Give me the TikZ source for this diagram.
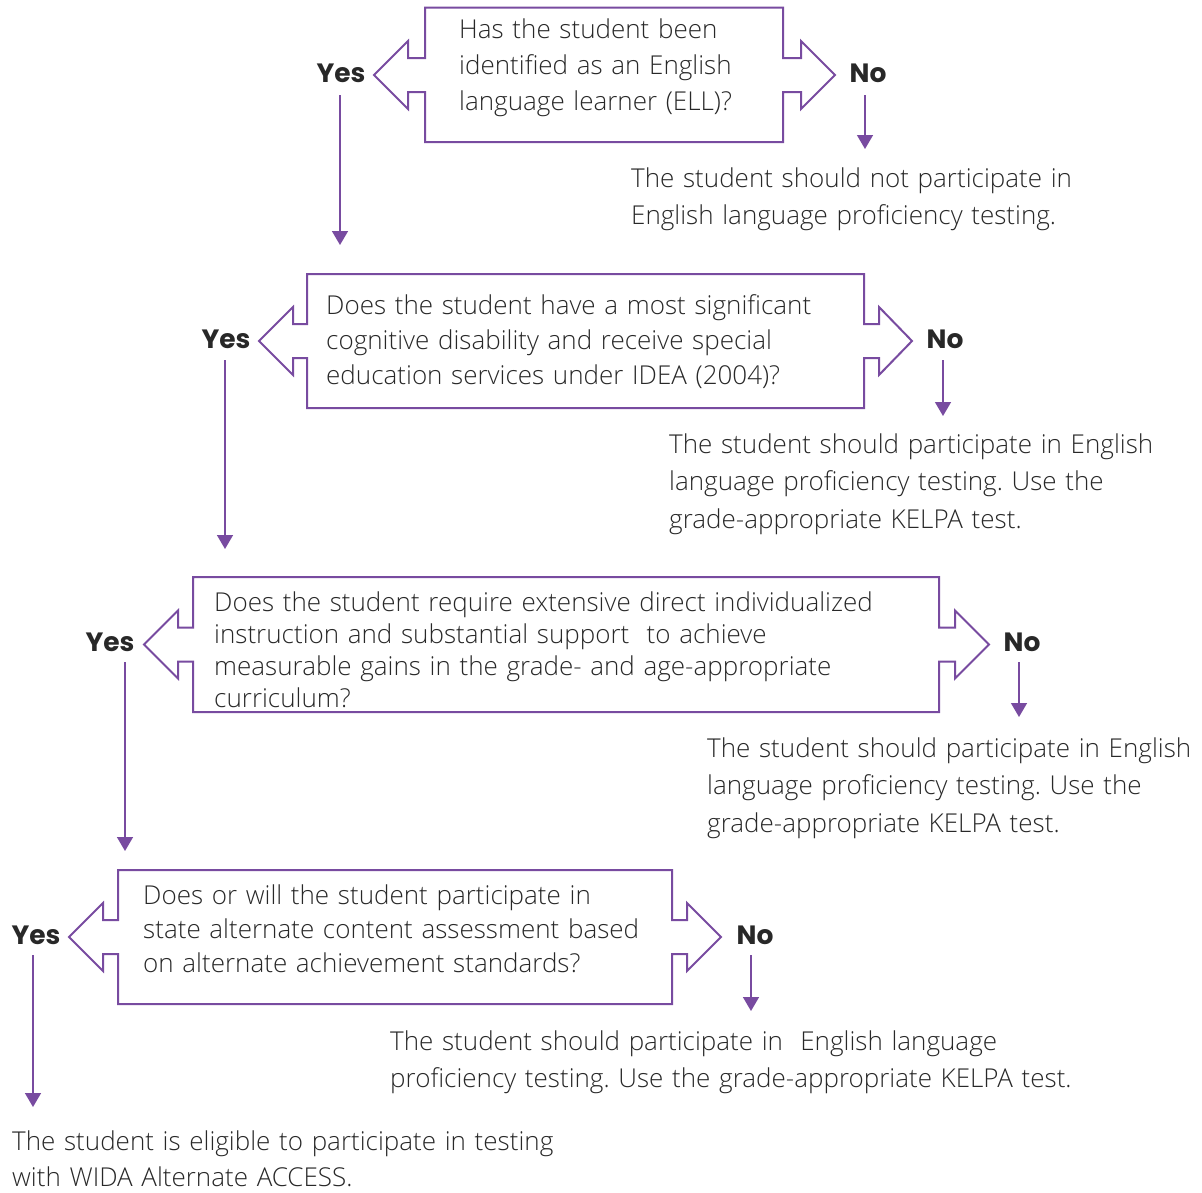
\documentclass[tikz,border=0pt]{standalone}
\usepackage{fontspec}
\IfFontExistsTF{Open Sans Light}{%
  \setmainfont{Open Sans Light}[BoldFont={Open Sans Bold}]}{%
  \setmainfont{Open Sans}}
\newfontfamily\lblfont{Poppins}
\usetikzlibrary{arrows.meta}
\definecolor{purp}{RGB}{120,75,160}
\definecolor{txt}{RGB}{40,40,40}
\frenchspacing
% #1 left, #2 right, #3 top, #4 bottom, #5 centre y, #6 left tip, #7 left back, #8 right back, #9 right tip
\newcommand\qshape[9]{%
  \draw[qbox] (#1,#3) -- (#2,#3) -- (#2,{#5-17}) -- (#8,{#5-17}) -- (#8,{#5-34})
    -- (#9,#5) -- (#8,{#5+34}) -- (#8,{#5+17}) -- (#2,{#5+17}) -- (#2,#4)
    -- (#1,#4) -- (#1,{#5+17}) -- (#7,{#5+17}) -- (#7,{#5+34}) -- (#6,#5)
    -- (#7,{#5-34}) -- (#7,{#5-17}) -- (#1,{#5-17}) -- cycle;}
\begin{document}
\begin{tikzpicture}[x=1pt,y=-1pt,
  qbox/.style={draw=purp,line width=2pt,line join=miter},
  arr/.style={draw=purp,line width=1.5pt,-{Triangle[width=16pt,length=14pt]}},
  lbl/.style={font=\lblfont\fontsize{26.5}{30}\selectfont\bfseries,text=txt,inner sep=0pt,anchor=base},
  body/.style={font=\fontsize{26}{#1}\selectfont,text=txt,inner sep=0pt,anchor=base west,
    align=left,text width=1000pt},
]
\useasboundingbox (0,0) rectangle (1202,1192);

% decision shapes
\qshape{425}{783}{7.5}{142}{75}{374}{408}{801}{835}
\qshape{307}{864}{274}{408}{341}{259}{293}{879}{912}
\qshape{193}{939}{577}{712}{644.5}{144}{178}{955}{989}
\qshape{118}{672}{870}{1004}{937}{69}{103}{687}{721}

% questions
\node[body=36] (q1) at (459,38) {Has the student been\\identified as an English\\language learner (ELL)?};
\node[body=35] (q2) at (326,314) {Does the student have a most significant\\cognitive disability and receive special\\education services under IDEA (2004)?};
\node[body=32] (q3) at (214,611) {Does the student require extensive direct individualized\\instruction and substantial support\ \ to achieve\\measurable gains in the grade- and age-appropriate\\curriculum?};
\node[body=34] (q4) at (143,904) {Does or will the student participate in\\state alternate content assessment based\\on alternate achievement standards?};

% labels
\node[lbl] (yes1) at (341,82) {Yes};
\node[lbl] (no1) at (868,82) {No};
\node[lbl] (yes2) at (226,348) {Yes};
\node[lbl] (no2) at (945,348) {No};
\node[lbl] (yes3) at (110,651) {Yes};
\node[lbl] (no3) at (1022,651) {No};
\node[lbl] (yes4) at (36,944) {Yes};
\node[lbl] (no4) at (755,944) {No};

% outcomes
\node[body=37] (o1) at (631,187) {The student should not participate in\\English language proficiency testing.};
\node[body=37.5] (o2) at (669,453) {The student should participate in English\\language proficiency testing. Use the\\grade-appropriate KELPA test.};
\node[body=37.5] (o3) at (707,757) {The student should participate in English\\language proficiency testing. Use the\\grade-appropriate KELPA test.};
\node[body=37] (o4) at (390,1050) {The student should participate in\ \ English language\\proficiency testing. Use the grade-appropriate KELPA test.};
\node[body=36] (o5) at (12,1150) {The student is eligible to participate in testing\\with WIDA Alternate ACCESS.};

% arrow ends
\coordinate (ye1) at (340,245);
\coordinate (ne1) at (865,149);
\coordinate (ye2) at (225,549);
\coordinate (ne2) at (943,416);
\coordinate (ye3) at (125,851);
\coordinate (ne3) at (1019,717);
\coordinate (ye4) at (33,1107);
\coordinate (ne4) at (751,1011);

\coordinate (ys1) at (340,95);
\coordinate (ns1) at (865,95);
\coordinate (ys2) at (225,360);
\coordinate (ns2) at (943,360);
\coordinate (ys3) at (125,662);
\coordinate (ns3) at (1019,662);
\coordinate (ys4) at (33,955);
\coordinate (ns4) at (751,955);

\draw[arr] (ys1) -- (ye1);
\draw[arr] (ns1) -- (ne1);
\draw[arr] (ys2) -- (ye2);
\draw[arr] (ns2) -- (ne2);
\draw[arr] (ys3) -- (ye3);
\draw[arr] (ns3) -- (ne3);
\draw[arr] (ys4) -- (ye4);
\draw[arr] (ns4) -- (ne4);
\end{tikzpicture}
\end{document}
